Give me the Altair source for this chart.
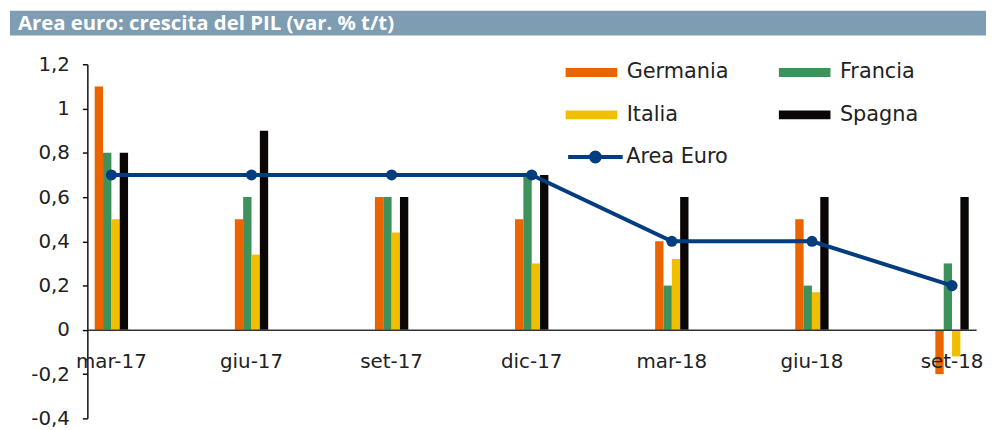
import altair as alt
import pandas as pd

# ---- data ----
periodi = ["mar-17", "giu-17", "set-17", "dic-17", "mar-18", "giu-18", "set-18"]
paesi = ["Germania", "Francia", "Italia", "Spagna"]
ordine_legenda = ["Germania", "Italia", "Francia", "Spagna"]
germania = [1.1, 0.5, 0.6, 0.5, 0.4, 0.5, -0.2]
francia = [0.8, 0.6, 0.6, 0.7, 0.2, 0.2, 0.3]
italia = [0.5, 0.34, 0.44, 0.3, 0.32, 0.17, -0.12]
spagna = [0.8, 0.9, 0.6, 0.7, 0.6, 0.6, 0.6]
area_euro = [0.7, 0.7, 0.7, 0.7, 0.4, 0.4, 0.2]
serie_linea = "Area Euro"
y_ticks = [-0.4, -0.2, 0, 0.2, 0.4, 0.6, 0.8, 1.0, 1.2]
titolo = "Area euro: crescita del PIL (var. % t/t)"

# ---- styling ----
colore_paese = {"Germania": "#ea6500", "Francia": "#3e915b", "Italia": "#efbf00", "Spagna": "#0b0606"}
colore_area = "#033d80"
colore_banner = "#7e9db3"
FONT = "DejaVu Sans"
W, H = 896, 357

rows = []
for nome, vals in zip(paesi, [germania, francia, italia, spagna]):
    for p, v in zip(periodi, vals):
        rows.append({"periodo": p, "paese": nome, "valore": v})
df_bar = pd.DataFrame(rows)
df_line = pd.DataFrame({"periodo": periodi, "valore": area_euro, "serie": serie_linea})
df_one = pd.DataFrame({"t": [titolo]})

x_scale = alt.Scale(domain=periodi, paddingInner=0.762, paddingOuter=0.0526)
y_scale = alt.Scale(domain=[-0.4, 1.2], nice=False, zero=False)

x_axis = alt.Axis(
    title=None, orient="bottom", offset=-H * 0.25, ticks=False, grid=False,
    domainColor="#333333", domainWidth=1.5, labelAngle=0, labelPadding=22,
    labelFont=FONT, labelFontSize=20, labelColor="#222222", zindex=1,
)
y_axis = alt.Axis(
    title=None, values=y_ticks, grid=False,
    labelExpr="replace(toString(round(datum.value*10)/10), '.', ',')",
    domainColor="#111111", domainWidth=1.5, tickColor="#111111", tickWidth=1.5,
    tickSize=5, labelPadding=13, labelFont=FONT, labelFontSize=20,
    labelColor="#222222",
)

bars = alt.Chart(df_bar).mark_bar(strokeWidth=0).encode(
    x=alt.X("periodo:N", sort=periodi, scale=x_scale, axis=x_axis),
    xOffset=alt.XOffset("paese:N", sort=paesi, scale=alt.Scale(paddingInner=0, paddingOuter=0)),
    y=alt.Y("valore:Q", scale=y_scale, axis=y_axis),
    color=alt.Color(
        "paese:N", sort=ordine_legenda,
        scale=alt.Scale(domain=ordine_legenda, range=[colore_paese[p] for p in ordine_legenda]),
        legend=alt.Legend(
            title=None, orient="none", legendX=497.7, legendY=-2.5, columns=2,
            symbolType="M-2.6,-0.45H2.6V0.45H-2.6Z", symbolSize=400,
            symbolStrokeWidth=0, symbolOpacity=1, labelFont=FONT, labelFontSize=21,
            labelColor="#222222", labelOffset=25, columnPadding=50, rowPadding=21,
            padding=0,
        ),
    ),
)

line = alt.Chart(df_line).mark_line(strokeWidth=4).encode(
    x=alt.X("periodo:N", sort=periodi, scale=x_scale, axis=x_axis, bandPosition=0.5),
    y=alt.Y("valore:Q", scale=y_scale, axis=y_axis),
    stroke=alt.Stroke(
        "serie:N", scale=alt.Scale(domain=[serie_linea], range=[colore_area]),
        legend=alt.Legend(
            title=None, orient="none", legendX=500.2, legendY=81.5,
            symbolType="M-2.75,0H2.75M-0.45,0A0.45,0.45 0 1,0 0.45,0A0.45,0.45 0 1,0 -0.45,0",
            symbolSize=400, symbolStrokeWidth=4, symbolFillColor=colore_area,
            symbolOpacity=1, labelFont=FONT, labelFontSize=21, labelColor="#222222",
            labelOffset=19, padding=0,
        ),
    ),
)

points = alt.Chart(df_line).mark_circle(size=125, opacity=1, color=colore_area).encode(
    x=alt.X("periodo:N", sort=periodi, scale=x_scale, axis=x_axis, bandPosition=0.5),
    y=alt.Y("valore:Q", scale=y_scale, axis=y_axis),
)

banner = alt.Chart(df_one).mark_rect(color=colore_banner).encode(
    x=alt.value(-78), x2=alt.value(920), y=alt.value(-54), y2=alt.value(-29)
)
banner_text = alt.Chart(df_one).mark_text(
    align="left", baseline="middle", font="Open Sans", fontSize=20.5,
    fontWeight="bold", color="white",
).encode(x=alt.value(-70), y=alt.value(-41), text="t:N")

chart = alt.layer(bars, line, points, banner, banner_text).resolve_scale(
    color="independent"
).properties(
    width=W, height=H,
    autosize=alt.AutoSizeParams(type="none"),
    padding={"left": 80, "top": 55, "right": 10, "bottom": 10},
    background="white",
).configure_view(stroke=None)

chart.save("out.html", embed_options={"renderer": "svg", "actions": False})
